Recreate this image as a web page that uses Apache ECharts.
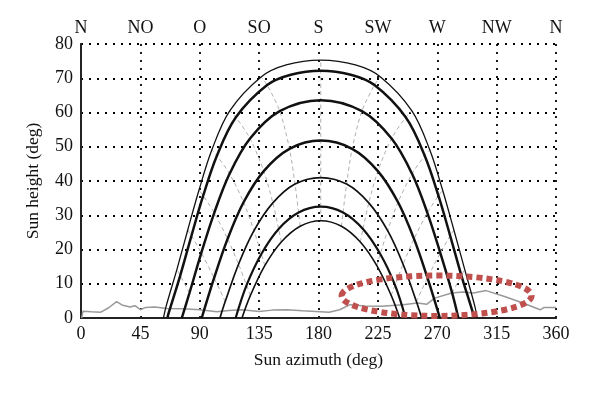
<!DOCTYPE html>
<html><head><meta charset="utf-8">
<script src="https://cdn.jsdelivr.net/npm/echarts@6/dist/echarts.min.js"></script>
<style>html,body{margin:0;padding:0;background:#fff}#c{width:600px;height:395px}</style>
</head><body><div id="c"></div>
<script>
// axis ticks / labels
const azimuthTicks = [0, 45, 90, 135, 180, 225, 270, 315, 360];
const compassLabels = ['N', 'NO', 'O', 'SO', 'S', 'SW', 'W', 'NW', 'N'];
const heightTicks = [0, 10, 20, 30, 40, 50, 60, 70, 80];

// sun paths [azimuth, height]
const pathA = [[62.5,0],[64.5,3.4],[72.7,14.2],[80.9,25.7],[89.4,37.3],[99.2,49.1],[112.7,60.5],[136.5,70.4],[155.5,73.9],[181.7,75.3],[208,73.9],[227,70.4],[250.8,60.5],[264.3,49.1],[274.1,37.3],[282.6,25.7],[290.8,14.2],[298.5,3.4],[300.3,0]];
const pathB = [[65.5,0],[66.4,1.4],[75.2,12.4],[83.7,24],[92.6,35.7],[103,47.4],[117.4,58.6],[141.1,68],[159,71],[181.7,72.2],[204.5,71],[222.4,68],[246.1,58.6],[260.5,47.4],[270.9,35.7],[279.8,24],[288.3,12.4],[297.1,1.4],[297.8,0]];
const pathC = [[76.4,0],[82.2,7.3],[91.2,19],[101,30.7],[112.6,42.1],[128.1,52.4],[150.6,60.4],[181.7,63.6],[212.9,60.4],[235.4,52.4],[250.9,42.1],[262.5,30.7],[272.3,19],[281.3,7.3],[286,0]];
const pathD = [[91.5,0],[100.9,11.7],[111.1,23.1],[123.2,33.8],[138.5,42.9],[158,49.4],[181.7,51.8],[205.5,49.4],[225,42.9],[240.3,33.8],[252.4,23.1],[262.6,11.7],[272,0]];
const pathE = [[105.3,0],[109.3,4.8],[119.4,15.7],[131.1,25.5],[145.4,33.6],[162.2,39.1],[181.7,41],[201.3,39.1],[218.1,33.6],[232.4,25.5],[244.1,15.7],[254.2,4.8],[258.2,0]];
const pathF = [[117.2,0],[125.5,9.6],[136.7,18.7],[149.8,26],[164.9,30.8],[181.7,32.5],[198.6,30.8],[213.7,26],[226.8,18.7],[238,9.6],[246,0]];
const pathG = [[122,0],[128.4,6.6],[139.3,15.3],[151.8,22.2],[166.1,26.8],[181.7,28.4],[197.4,26.8],[211.7,22.2],[224.2,15.3],[235.1,6.6],[241.5,0]];

// hour lines (same hour across the dates)
const hour12 = [[181.7,28.4],[181.7,32.5],[181.7,41],[181.7,51.8],[181.7,63.6],[181.7,72.2],[181.7,75.3]];
const hour11 = [[166.1,26.8],[164.9,30.8],[162.2,39.1],[158,49.4],[150.6,60.4],[141.1,68],[136.5,70.4]];
const hour10 = [[151.8,22.2],[149.8,26],[145.4,33.6],[138.5,42.9],[128.1,52.4],[117.4,58.6],[112.7,60.5]];
const hour9  = [[139.3,15.3],[136.7,18.7],[131.1,25.5],[123.2,33.8],[112.6,42.1],[103,47.4],[99.2,49.1]];
const hour8  = [[128.4,6.6],[125.5,9.6],[119.4,15.7],[111.1,23.1],[101,30.7],[92.6,35.7],[89.4,37.3]];
const hour7  = [[109.3,4.8],[100.9,11.7],[91.2,19],[83.7,24],[80.9,25.7]];
const hour6  = [[82.2,7.3],[75.2,12.4],[72.7,14.2]];
const hour13 = [[197.4,26.8],[198.6,30.8],[201.3,39.1],[205.5,49.4],[212.9,60.4],[222.4,68],[227,70.4]];
const hour14 = [[211.7,22.2],[213.7,26],[218.1,33.6],[225,42.9],[235.4,52.4],[246.1,58.6],[250.8,60.5]];
const hour15 = [[224.2,15.3],[226.8,18.7],[232.4,25.5],[240.3,33.8],[250.9,42.1],[260.5,47.4],[264.3,49.1]];
const hour16 = [[235.1,6.6],[238,9.6],[244.1,15.7],[252.4,23.1],[262.5,30.7],[270.9,35.7],[274.1,37.3]];
const hour17 = [[254.2,4.8],[262.6,11.7],[272.3,19],[279.8,24],[282.6,25.7]];
const hour18 = [[281.3,7.3],[288.3,12.4],[290.8,14.2]];

// horizon profile
const horizon = [[0.5,0],[1.5,2],[8,1.8],[15,1.7],[21,3],[27,4.8],[31,3.8],[37,3.2],[41,3.6],[45,2.4],[49,3.1],[56,3.2],[65,2.8],[77,2.7],[90,2.4],[103,1.8],[112,2.2],[122,2.4],[135,1.9],[145,2.3],[156,2.4],[168,2.1],[178,1.9],[188,1.7],[196,2.4],[204,3.9],[215,3.5],[228,3.4],[244,3.9],[255,4.4],[262,4],[268,5.8],[281,7.3],[289.5,7.6],[297.5,7.3],[307,8],[321,6.3],[335,4.4],[348,2.4],[351,3.1],[360,3.1]];

// highlighted region (data units): centre and radii
const ellipseCenter = [269.5, 6.5];
const ellipseRadius = [72, 5.9];

const FONT = 'Liberation Serif';
const chart = echarts.init(document.getElementById('c'), null, {renderer: 'canvas'});

const sunPaths = [
  {d: pathA, w: 1.3}, {d: pathB, w: 2.5}, {d: pathC, w: 2.5}, {d: pathD, w: 2.5},
  {d: pathE, w: 1.7}, {d: pathF, w: 2.2}, {d: pathG, w: 1.6}
];
const hourLines = [hour6, hour7, hour8, hour9, hour10, hour11, hour12, hour13, hour14, hour15, hour16, hour17, hour18];

const series = [];
hourLines.forEach(h => series.push({
  type: 'line', data: h, showSymbol: false, smooth: 0.3, silent: true, z: 2,
  lineStyle: {color: '#b0b0b0', width: 1, type: [4, 3]}
}));
series.push({
  type: 'line', data: horizon, showSymbol: false, silent: true, z: 3,
  lineStyle: {color: '#999', width: 1.5}
});
sunPaths.forEach(p => series.push({
  type: 'line', data: p.d, showSymbol: false, smooth: 0.35, silent: true, z: 4,
  lineStyle: {color: '#111', width: p.w}
}));

const dotted = {color: '#000', width: 1.8, type: [2, 6]};
const labelStyle = {fontFamily: FONT, fontSize: 18, color: '#111'};
const titleStyle = {fontFamily: FONT, fontSize: 17.5, color: '#111'};

chart.setOption({
  animation: false,
  backgroundColor: '#fff',
  grid: {left: 81, right: 44, top: 44, bottom: 77, show: false},
  xAxis: [{
    type: 'value', min: azimuthTicks[0], max: azimuthTicks[azimuthTicks.length - 1], interval: 45,
    position: 'bottom',
    name: 'Sun azimuth (deg)', nameLocation: 'middle', nameGap: 33,
    nameTextStyle: titleStyle,
    axisLine: {show: true, lineStyle: {color: '#222', width: 1.8}},
    axisTick: {show: false},
    axisLabel: Object.assign({margin: 7}, labelStyle),
    splitLine: {show: true, lineStyle: dotted}
  }, {
    type: 'value', min: azimuthTicks[0], max: azimuthTicks[azimuthTicks.length - 1], interval: 45,
    position: 'top',
    axisLine: {show: true, lineStyle: {color: '#222', width: 1.8}},
    axisTick: {show: false},
    axisLabel: Object.assign({margin: 7, formatter: v => compassLabels[azimuthTicks.indexOf(v)]}, labelStyle),
    splitLine: {show: false}
  }],
  yAxis: [{
    type: 'value', min: heightTicks[0], max: heightTicks[heightTicks.length - 1], interval: 10,
    name: 'Sun height (deg)', nameLocation: 'middle', nameGap: 39,
    nameTextStyle: titleStyle,
    axisLine: {show: true, lineStyle: {color: '#222', width: 1.8}},
    axisTick: {show: false},
    axisLabel: Object.assign({margin: 8}, labelStyle),
    splitLine: {show: true, lineStyle: dotted}
  }, {
    type: 'value', min: heightTicks[0], max: heightTicks[heightTicks.length - 1], interval: 10,
    position: 'right',
    axisLine: {show: true, lineStyle: {color: '#222', width: 1.8}},
    axisTick: {show: false}, axisLabel: {show: false}, splitLine: {show: false}
  }],
  series: series
});

const c = chart.convertToPixel({xAxisIndex: 0, yAxisIndex: 0}, ellipseCenter);
const e = chart.convertToPixel({xAxisIndex: 0, yAxisIndex: 0}, [ellipseCenter[0] + ellipseRadius[0], ellipseCenter[1] + ellipseRadius[1]]);
chart.setOption({
  graphic: [{
    type: 'ellipse', z: 100, silent: true,
    shape: {cx: c[0], cy: c[1], rx: Math.abs(e[0] - c[0]), ry: Math.abs(e[1] - c[1])},
    style: {fill: 'none', stroke: '#c0504d', lineWidth: 6, lineDash: [6, 4], lineCap: 'butt'}
  }]
});
</script>
</body></html>
